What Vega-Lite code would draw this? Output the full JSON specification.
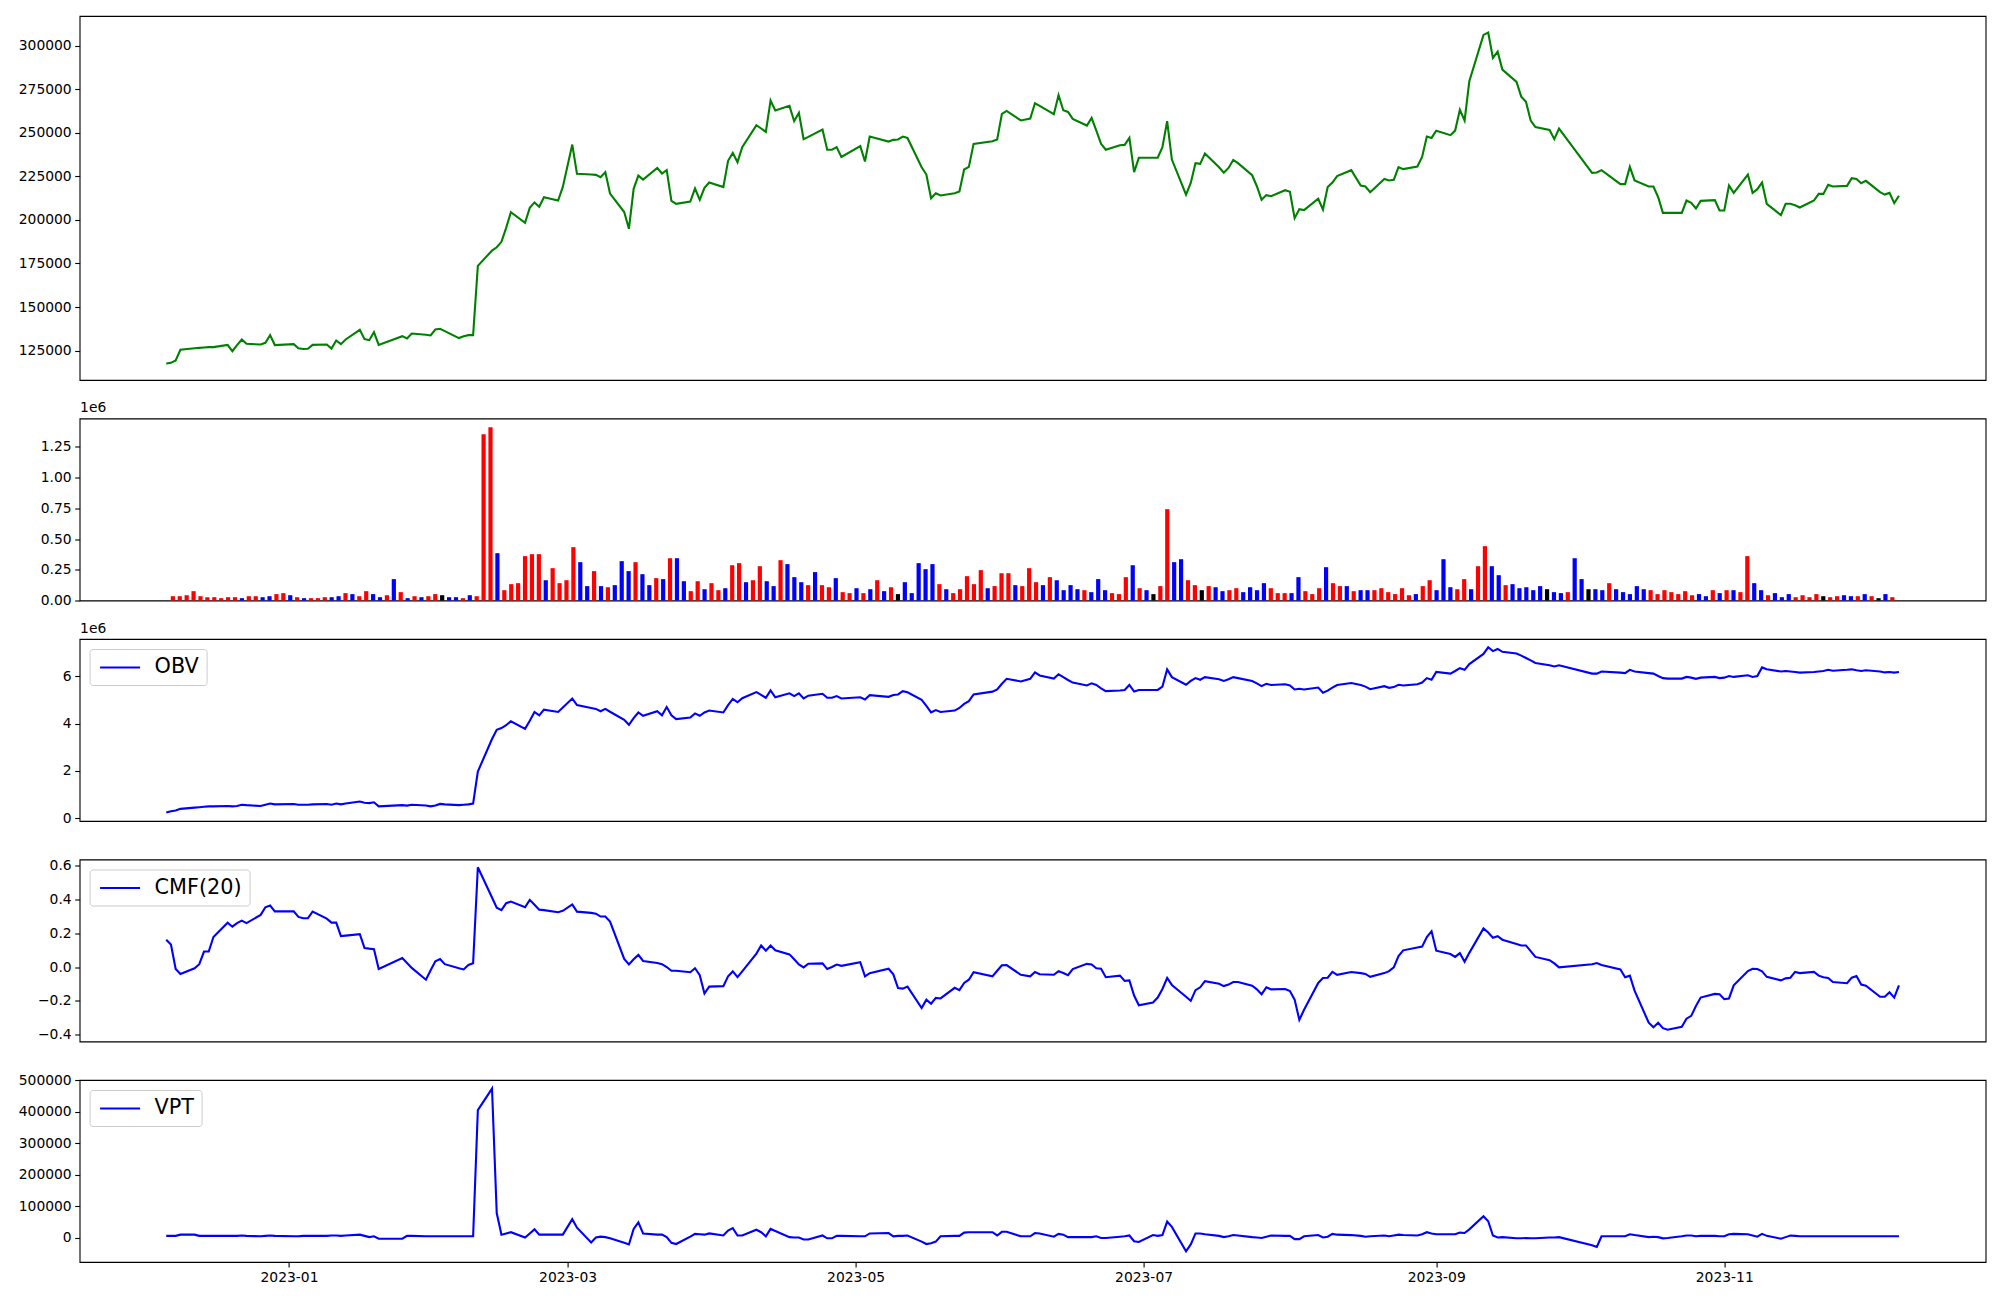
{
"$schema": "https://vega.github.io/schema/vega-lite/v6.json",
"background": "white",
"padding": {"left": 17.6, "top": 15, "right": 15, "bottom": 8},
"autosize": {"type": "pad"},
"spacing": 38.5,
"bounds": "flush",
"resolve": {"scale": {"color": "independent"}, "legend": {"color": "independent"}},
"config": {
  "font": "DejaVu Sans",
  "view": {"stroke": "black", "strokeWidth": 1.1},
  "axis": {"grid": false, "domain": false, "tickColor": "black", "tickWidth": 1.1, "tickSize": 4.9, "labelPadding": 3.5, "labelFont": "DejaVu Sans", "labelFontSize": 13.9, "labelColor": "black", "title": null, "titleFont": "DejaVu Sans", "titleFontSize": 13.9, "titleFontWeight": "normal", "titleColor": "black"},
  "legend": {"orient": "top-left", "offset": 10, "symbolType": "M-2,0H2", "symbolSize": 400, "symbolStrokeWidth": 2.1, "symbolOffset": 12, "labelFontSize": 20.8, "labelFont": "DejaVu Sans", "labelColor": "black", "strokeColor": "#cccccc", "fillColor": "white", "padding": 7, "cornerRadius": 3, "labelOffset": 23}
},
"datasets": {"d": [
{"i":1,"date":"2022-12-06","close":117600,"vol":35000,"dir":"up","obv":246000,"cmf":0.163,"vpt":6000},
{"i":2,"date":"2022-12-07","close":118000,"vol":35000,"dir":"up","obv":298000,"cmf":0.134,"vpt":6000},
{"i":3,"date":"2022-12-08","close":119400,"vol":43000,"dir":"up","obv":333000,"cmf":-0.011,"vpt":6000},
{"i":4,"date":"2022-12-09","close":125500,"vol":76000,"dir":"up","obv":402000,"cmf":-0.040,"vpt":9800},
{"i":5,"date":"2022-12-12","close":126400,"vol":35000,"dir":"up","obv":454000,"cmf":-0.006,"vpt":9800},
{"i":6,"date":"2022-12-13","close":126600,"vol":27000,"dir":"up","obv":471000,"cmf":0.018,"vpt":6000},
{"i":7,"date":"2022-12-14","close":126800,"vol":27000,"dir":"up","obv":489000,"cmf":0.093,"vpt":6000},
{"i":8,"date":"2022-12-15","close":127000,"vol":19000,"dir":"up","obv":506000,"cmf":0.093,"vpt":6000},
{"i":9,"date":"2022-12-16","close":127000,"vol":27000,"dir":"up","obv":506000,"cmf":0.179,"vpt":6000},
{"i":10,"date":"2022-12-19","close":128300,"vol":27000,"dir":"up","obv":523000,"cmf":0.264,"vpt":6000},
{"i":11,"date":"2022-12-20","close":124700,"vol":19000,"dir":"down","obv":506000,"cmf":0.240,"vpt":6000},
{"i":12,"date":"2022-12-21","close":128200,"vol":35000,"dir":"up","obv":523000,"cmf":0.261,"vpt":6000},
{"i":13,"date":"2022-12-22","close":131400,"vol":35000,"dir":"up","obv":575000,"cmf":0.276,"vpt":7200},
{"i":14,"date":"2022-12-23","close":128900,"vol":27000,"dir":"down","obv":558000,"cmf":0.261,"vpt":6000},
{"i":15,"date":"2022-12-26","close":128500,"vol":35000,"dir":"down","obv":523000,"cmf":0.310,"vpt":4600},
{"i":16,"date":"2022-12-27","close":129500,"vol":52000,"dir":"up","obv":575000,"cmf":0.355,"vpt":6000},
{"i":17,"date":"2022-12-28","close":133900,"vol":60000,"dir":"up","obv":627000,"cmf":0.365,"vpt":7200},
{"i":18,"date":"2022-12-29","close":128200,"vol":43000,"dir":"down","obv":592000,"cmf":0.331,"vpt":6000},
{"i":19,"date":"2023-01-02","close":128700,"vol":27000,"dir":"up","obv":610000,"cmf":0.331,"vpt":4600},
{"i":20,"date":"2023-01-03","close":126400,"vol":19000,"dir":"down","obv":575000,"cmf":0.298,"vpt":4600},
{"i":21,"date":"2023-01-04","close":125900,"vol":19000,"dir":"up","obv":575000,"cmf":0.290,"vpt":6000},
{"i":22,"date":"2023-01-05","close":126100,"vol":19000,"dir":"up","obv":575000,"cmf":0.290,"vpt":6000},
{"i":23,"date":"2023-01-06","close":128300,"vol":27000,"dir":"up","obv":592000,"cmf":0.329,"vpt":6000},
{"i":24,"date":"2023-01-09","close":128500,"vol":27000,"dir":"down","obv":610000,"cmf":0.288,"vpt":6000},
{"i":25,"date":"2023-01-10","close":126200,"vol":35000,"dir":"down","obv":575000,"cmf":0.264,"vpt":7200},
{"i":26,"date":"2023-01-11","close":130800,"vol":60000,"dir":"up","obv":627000,"cmf":0.264,"vpt":7200},
{"i":27,"date":"2023-01-12","close":128700,"vol":52000,"dir":"down","obv":592000,"cmf":0.184,"vpt":6000},
{"i":28,"date":"2023-01-13","close":131400,"vol":35000,"dir":"up","obv":627000,"cmf":0.187,"vpt":7200},
{"i":29,"date":"2023-01-16","close":136900,"vol":76000,"dir":"up","obv":714000,"cmf":0.196,"vpt":9800},
{"i":30,"date":"2023-01-17","close":131600,"vol":52000,"dir":"down","obv":662000,"cmf":0.114,"vpt":6000},
{"i":31,"date":"2023-01-18","close":131000,"vol":27000,"dir":"down","obv":644000,"cmf":0.110,"vpt":2000},
{"i":32,"date":"2023-01-19","close":135600,"vol":43000,"dir":"up","obv":679000,"cmf":0.107,"vpt":4600},
{"i":33,"date":"2023-01-20","close":128300,"vol":174000,"dir":"down","obv":506000,"cmf":-0.011,"vpt":-3100},
{"i":34,"date":"2023-01-25","close":133300,"vol":68000,"dir":"up","obv":558000,"cmf":0.054,"vpt":-3100},
{"i":35,"date":"2023-01-26","close":132000,"vol":19000,"dir":"down","obv":541000,"cmf":0.025,"vpt":6000},
{"i":36,"date":"2023-01-27","close":134800,"vol":35000,"dir":"up","obv":575000,"cmf":-0.004,"vpt":6000},
{"i":37,"date":"2023-01-30","close":134100,"vol":27000,"dir":"down","obv":541000,"cmf":-0.074,"vpt":4600},
{"i":38,"date":"2023-01-31","close":133700,"vol":35000,"dir":"up","obv":506000,"cmf":-0.018,"vpt":4600},
{"i":39,"date":"2023-02-01","close":137100,"vol":52000,"dir":"up","obv":541000,"cmf":0.035,"vpt":4600},
{"i":40,"date":"2023-02-02","close":137500,"vol":43000,"dir":"flat","obv":610000,"cmf":0.049,"vpt":4600},
{"i":41,"date":"2023-02-03","close":136200,"vol":27000,"dir":"down","obv":592000,"cmf":0.018,"vpt":4600},
{"i":42,"date":"2023-02-06","close":132200,"vol":27000,"dir":"down","obv":558000,"cmf":-0.006,"vpt":4600},
{"i":43,"date":"2023-02-07","close":133300,"vol":19000,"dir":"up","obv":575000,"cmf":-0.013,"vpt":4600},
{"i":44,"date":"2023-02-08","close":133900,"vol":43000,"dir":"down","obv":592000,"cmf":0.013,"vpt":4600},
{"i":45,"date":"2023-02-09","close":133900,"vol":35000,"dir":"up","obv":627000,"cmf":0.023,"vpt":4600},
{"i":46,"date":"2023-02-10","close":173600,"vol":1353000,"dir":"up","obv":1977000,"cmf":0.592,"vpt":405100},
{"i":47,"date":"2023-02-13","close":182400,"vol":1410000,"dir":"up","obv":3350000,"cmf":0.413,"vpt":473800},
{"i":48,"date":"2023-02-14","close":184300,"vol":385000,"dir":"down","obv":3740000,"cmf":0.353,"vpt":78500},
{"i":49,"date":"2023-02-15","close":187400,"vol":84000,"dir":"up","obv":3810000,"cmf":0.338,"vpt":9800},
{"i":50,"date":"2023-02-16","close":195400,"vol":133000,"dir":"up","obv":3930000,"cmf":0.379,"vpt":13700},
{"i":51,"date":"2023-02-17","close":204400,"vol":141000,"dir":"up","obv":4100000,"cmf":0.389,"vpt":17600},
{"i":52,"date":"2023-02-20","close":198300,"vol":361000,"dir":"up","obv":3780000,"cmf":0.355,"vpt":800},
{"i":53,"date":"2023-02-21","close":206900,"vol":377000,"dir":"up","obv":4120000,"cmf":0.399,"vpt":13700},
{"i":54,"date":"2023-02-22","close":210000,"vol":377000,"dir":"up","obv":4490000,"cmf":0.370,"vpt":26700},
{"i":55,"date":"2023-02-23","close":207500,"vol":165000,"dir":"down","obv":4350000,"cmf":0.341,"vpt":9800},
{"i":56,"date":"2023-02-24","close":213000,"vol":263000,"dir":"up","obv":4590000,"cmf":0.338,"vpt":9800},
{"i":57,"date":"2023-02-27","close":211100,"vol":141000,"dir":"up","obv":4490000,"cmf":0.326,"vpt":9800},
{"i":58,"date":"2023-02-28","close":218900,"vol":165000,"dir":"up","obv":4680000,"cmf":0.334,"vpt":9800},
{"i":59,"date":"2023-03-02","close":243200,"vol":434000,"dir":"up","obv":5060000,"cmf":0.372,"vpt":59100},
{"i":60,"date":"2023-03-03","close":226400,"vol":312000,"dir":"down","obv":4780000,"cmf":0.329,"vpt":31800},
{"i":61,"date":"2023-03-06","close":226000,"vol":117000,"dir":"down","obv":4660000,"cmf":0.322,"vpt":-14800},
{"i":62,"date":"2023-03-07","close":225800,"vol":239000,"dir":"up","obv":4620000,"cmf":0.317,"vpt":800},
{"i":63,"date":"2023-03-08","close":224500,"vol":117000,"dir":"down","obv":4520000,"cmf":0.300,"vpt":3400},
{"i":64,"date":"2023-03-09","close":227400,"vol":108000,"dir":"up","obv":4620000,"cmf":0.300,"vpt":2000},
{"i":65,"date":"2023-03-10","close":215100,"vol":125000,"dir":"down","obv":4500000,"cmf":0.270,"vpt":-1800},
{"i":66,"date":"2023-03-13","close":204500,"vol":320000,"dir":"down","obv":4160000,"cmf":0.049,"vpt":-16100},
{"i":67,"date":"2023-03-14","close":194900,"vol":239000,"dir":"down","obv":3950000,"cmf":0.016,"vpt":-21300},
{"i":68,"date":"2023-03-15","close":217800,"vol":312000,"dir":"up","obv":4230000,"cmf":0.047,"vpt":28000},
{"i":69,"date":"2023-03-16","close":225400,"vol":214000,"dir":"down","obv":4470000,"cmf":0.073,"vpt":48700},
{"i":70,"date":"2023-03-17","close":223100,"vol":125000,"dir":"down","obv":4330000,"cmf":0.037,"vpt":13700},
{"i":71,"date":"2023-03-20","close":229800,"vol":182000,"dir":"up","obv":4520000,"cmf":0.025,"vpt":9800},
{"i":72,"date":"2023-03-21","close":226600,"vol":174000,"dir":"down","obv":4350000,"cmf":0.018,"vpt":9800},
{"i":73,"date":"2023-03-22","close":228500,"vol":344000,"dir":"up","obv":4700000,"cmf":0.001,"vpt":2000},
{"i":74,"date":"2023-03-23","close":210900,"vol":344000,"dir":"down","obv":4350000,"cmf":-0.021,"vpt":-16100},
{"i":75,"date":"2023-03-24","close":209200,"vol":157000,"dir":"down","obv":4190000,"cmf":-0.021,"vpt":-20000},
{"i":76,"date":"2023-03-27","close":210500,"vol":76000,"dir":"up","obv":4260000,"cmf":-0.030,"vpt":3400},
{"i":77,"date":"2023-03-28","close":218000,"vol":157000,"dir":"up","obv":4430000,"cmf":-0.006,"vpt":12400},
{"i":78,"date":"2023-03-29","close":211500,"vol":92000,"dir":"down","obv":4330000,"cmf":-0.047,"vpt":11100},
{"i":79,"date":"2023-03-30","close":218400,"vol":141000,"dir":"up","obv":4470000,"cmf":-0.156,"vpt":9800},
{"i":80,"date":"2023-03-31","close":221400,"vol":84000,"dir":"up","obv":4550000,"cmf":-0.115,"vpt":13700},
{"i":81,"date":"2023-04-03","close":218800,"vol":100000,"dir":"down","obv":4470000,"cmf":-0.112,"vpt":7200},
{"i":82,"date":"2023-04-04","close":233900,"vol":287000,"dir":"up","obv":4780000,"cmf":-0.054,"vpt":22700},
{"i":83,"date":"2023-04-05","close":238400,"vol":304000,"dir":"up","obv":5040000,"cmf":-0.025,"vpt":30600},
{"i":84,"date":"2023-04-06","close":233100,"vol":149000,"dir":"down","obv":4900000,"cmf":-0.059,"vpt":7200},
{"i":85,"date":"2023-04-07","close":241700,"vol":165000,"dir":"up","obv":5070000,"cmf":-0.025,"vpt":7200},
{"i":86,"date":"2023-04-10","close":254300,"vol":279000,"dir":"up","obv":5330000,"cmf":0.081,"vpt":25400},
{"i":87,"date":"2023-04-11","close":252400,"vol":157000,"dir":"down","obv":5210000,"cmf":0.129,"vpt":17600},
{"i":88,"date":"2023-04-12","close":250500,"vol":117000,"dir":"down","obv":5090000,"cmf":0.098,"vpt":4600},
{"i":89,"date":"2023-04-13","close":268400,"vol":328000,"dir":"up","obv":5400000,"cmf":0.129,"vpt":28000},
{"i":90,"date":"2023-04-14","close":262700,"vol":296000,"dir":"down","obv":5110000,"cmf":0.100,"vpt":21500},
{"i":91,"date":"2023-04-17","close":265400,"vol":190000,"dir":"down","obv":5280000,"cmf":0.076,"vpt":2000},
{"i":92,"date":"2023-04-18","close":256600,"vol":149000,"dir":"down","obv":5160000,"cmf":0.047,"vpt":800},
{"i":93,"date":"2023-04-19","close":261400,"vol":125000,"dir":"up","obv":5280000,"cmf":0.016,"vpt":800},
{"i":94,"date":"2023-04-20","close":246300,"vol":231000,"dir":"down","obv":5060000,"cmf":-0.001,"vpt":-5700},
{"i":95,"date":"2023-04-21","close":247600,"vol":125000,"dir":"up","obv":5180000,"cmf":0.021,"vpt":-5700},
{"i":96,"date":"2023-04-24","close":251800,"vol":108000,"dir":"up","obv":5260000,"cmf":0.023,"vpt":7200},
{"i":97,"date":"2023-04-25","close":240200,"vol":182000,"dir":"down","obv":5090000,"cmf":-0.011,"vpt":-1800},
{"i":98,"date":"2023-04-26","close":240200,"vol":68000,"dir":"up","obv":5090000,"cmf":0.001,"vpt":-1800},
{"i":99,"date":"2023-04-27","close":241700,"vol":60000,"dir":"up","obv":5160000,"cmf":0.016,"vpt":6000},
{"i":100,"date":"2023-04-28","close":236100,"vol":100000,"dir":"down","obv":5060000,"cmf":0.008,"vpt":6000},
{"i":101,"date":"2023-05-02","close":242300,"vol":60000,"dir":"up","obv":5110000,"cmf":0.030,"vpt":4600},
{"i":102,"date":"2023-05-03","close":233500,"vol":92000,"dir":"down","obv":5020000,"cmf":-0.054,"vpt":4600},
{"i":103,"date":"2023-05-04","close":247800,"vol":165000,"dir":"up","obv":5200000,"cmf":-0.035,"vpt":13700},
{"i":104,"date":"2023-05-08","close":244900,"vol":76000,"dir":"down","obv":5130000,"cmf":-0.009,"vpt":15000},
{"i":105,"date":"2023-05-09","close":245900,"vol":108000,"dir":"up","obv":5210000,"cmf":-0.042,"vpt":4600},
{"i":106,"date":"2023-05-10","close":246100,"vol":52000,"dir":"flat","obv":5230000,"cmf":-0.124,"vpt":6000},
{"i":107,"date":"2023-05-11","close":247800,"vol":149000,"dir":"down","obv":5370000,"cmf":-0.127,"vpt":6000},
{"i":108,"date":"2023-05-12","close":247000,"vol":60000,"dir":"down","obv":5320000,"cmf":-0.115,"vpt":7200},
{"i":109,"date":"2023-05-15","close":230200,"vol":304000,"dir":"down","obv":5000000,"cmf":-0.242,"vpt":-12200},
{"i":110,"date":"2023-05-16","close":226000,"vol":255000,"dir":"down","obv":4750000,"cmf":-0.192,"vpt":-20000},
{"i":111,"date":"2023-05-17","close":212400,"vol":296000,"dir":"down","obv":4470000,"cmf":-0.216,"vpt":-17400},
{"i":112,"date":"2023-05-18","close":215300,"vol":133000,"dir":"up","obv":4570000,"cmf":-0.182,"vpt":-12200},
{"i":113,"date":"2023-05-19","close":214000,"vol":92000,"dir":"down","obv":4490000,"cmf":-0.185,"vpt":4600},
{"i":114,"date":"2023-05-22","close":215300,"vol":60000,"dir":"up","obv":4550000,"cmf":-0.122,"vpt":6000},
{"i":115,"date":"2023-05-23","close":216300,"vol":92000,"dir":"up","obv":4660000,"cmf":-0.136,"vpt":6000},
{"i":116,"date":"2023-05-24","close":228900,"vol":198000,"dir":"up","obv":4830000,"cmf":-0.093,"vpt":16300},
{"i":117,"date":"2023-05-25","close":230400,"vol":133000,"dir":"up","obv":4950000,"cmf":-0.074,"vpt":17600},
{"i":118,"date":"2023-05-26","close":243600,"vol":247000,"dir":"up","obv":5230000,"cmf":-0.030,"vpt":17600},
{"i":119,"date":"2023-05-30","close":245100,"vol":100000,"dir":"down","obv":5350000,"cmf":-0.054,"vpt":17600},
{"i":120,"date":"2023-05-31","close":246100,"vol":117000,"dir":"up","obv":5440000,"cmf":-0.021,"vpt":7200},
{"i":121,"date":"2023-06-01","close":260800,"vol":222000,"dir":"up","obv":5680000,"cmf":0.011,"vpt":18900},
{"i":122,"date":"2023-06-02","close":262500,"vol":222000,"dir":"up","obv":5890000,"cmf":0.013,"vpt":18900},
{"i":123,"date":"2023-06-05","close":257000,"vol":125000,"dir":"down","obv":5780000,"cmf":-0.045,"vpt":4600},
{"i":124,"date":"2023-06-07","close":258100,"vol":117000,"dir":"up","obv":5890000,"cmf":-0.054,"vpt":4600},
{"i":125,"date":"2023-06-08","close":266900,"vol":263000,"dir":"up","obv":6160000,"cmf":-0.028,"vpt":15000},
{"i":126,"date":"2023-06-09","close":265400,"vol":149000,"dir":"up","obv":6030000,"cmf":-0.042,"vpt":13700},
{"i":127,"date":"2023-06-12","close":260600,"vol":125000,"dir":"down","obv":5900000,"cmf":-0.045,"vpt":3400},
{"i":128,"date":"2023-06-13","close":271500,"vol":190000,"dir":"up","obv":6080000,"cmf":-0.023,"vpt":12400},
{"i":129,"date":"2023-06-14","close":262900,"vol":165000,"dir":"down","obv":5960000,"cmf":-0.034,"vpt":9800},
{"i":130,"date":"2023-06-15","close":261900,"vol":84000,"dir":"down","obv":5840000,"cmf":-0.047,"vpt":2000},
{"i":131,"date":"2023-06-16","close":257900,"vol":125000,"dir":"down","obv":5730000,"cmf":-0.011,"vpt":2000},
{"i":132,"date":"2023-06-19","close":254100,"vol":92000,"dir":"down","obv":5610000,"cmf":0.020,"vpt":2000},
{"i":133,"date":"2023-06-20","close":258500,"vol":84000,"dir":"up","obv":5700000,"cmf":0.016,"vpt":2000},
{"i":134,"date":"2023-06-21","close":251200,"vol":68000,"dir":"down","obv":5630000,"cmf":-0.006,"vpt":4600},
{"i":135,"date":"2023-06-22","close":243600,"vol":174000,"dir":"down","obv":5490000,"cmf":-0.009,"vpt":-600},
{"i":136,"date":"2023-06-23","close":240200,"vol":84000,"dir":"down","obv":5370000,"cmf":-0.059,"vpt":-600},
{"i":137,"date":"2023-06-26","close":242800,"vol":60000,"dir":"up","obv":5400000,"cmf":-0.050,"vpt":3400},
{"i":138,"date":"2023-06-27","close":243000,"vol":52000,"dir":"up","obv":5420000,"cmf":-0.081,"vpt":4600},
{"i":139,"date":"2023-06-28","close":247000,"vol":190000,"dir":"up","obv":5630000,"cmf":-0.078,"vpt":7200},
{"i":140,"date":"2023-06-29","close":227400,"vol":287000,"dir":"down","obv":5350000,"cmf":-0.168,"vpt":-10900},
{"i":141,"date":"2023-06-30","close":235600,"vol":100000,"dir":"up","obv":5420000,"cmf":-0.225,"vpt":-13500},
{"i":142,"date":"2023-07-03","close":235600,"vol":84000,"dir":"down","obv":5420000,"cmf":-0.209,"vpt":8500},
{"i":143,"date":"2023-07-04","close":235600,"vol":52000,"dir":"flat","obv":5420000,"cmf":-0.180,"vpt":6000},
{"i":144,"date":"2023-07-05","close":241700,"vol":117000,"dir":"up","obv":5560000,"cmf":-0.129,"vpt":8500},
{"i":145,"date":"2023-07-06","close":256600,"vol":743000,"dir":"up","obv":6290000,"cmf":-0.064,"vpt":51300},
{"i":146,"date":"2023-07-07","close":234600,"vol":312000,"dir":"down","obv":5960000,"cmf":-0.105,"vpt":34500},
{"i":147,"date":"2023-07-10","close":214500,"vol":336000,"dir":"down","obv":5640000,"cmf":-0.175,"vpt":-43300},
{"i":148,"date":"2023-07-11","close":221200,"vol":165000,"dir":"up","obv":5800000,"cmf":-0.199,"vpt":-21300},
{"i":149,"date":"2023-07-12","close":232500,"vol":125000,"dir":"up","obv":5920000,"cmf":-0.136,"vpt":13700},
{"i":150,"date":"2023-07-13","close":232100,"vol":84000,"dir":"flat","obv":5850000,"cmf":-0.119,"vpt":13700},
{"i":151,"date":"2023-07-14","close":238100,"vol":117000,"dir":"up","obv":5960000,"cmf":-0.083,"vpt":11100},
{"i":152,"date":"2023-07-17","close":230200,"vol":108000,"dir":"down","obv":5870000,"cmf":-0.098,"vpt":6000},
{"i":153,"date":"2023-07-18","close":227000,"vol":76000,"dir":"down","obv":5800000,"cmf":-0.112,"vpt":2000},
{"i":154,"date":"2023-07-19","close":229800,"vol":84000,"dir":"up","obv":5870000,"cmf":-0.103,"vpt":4600},
{"i":155,"date":"2023-07-20","close":234400,"vol":100000,"dir":"up","obv":5960000,"cmf":-0.088,"vpt":8500},
{"i":156,"date":"2023-07-21","close":232500,"vol":68000,"dir":"down","obv":5920000,"cmf":-0.088,"vpt":7200},
{"i":157,"date":"2023-07-24","close":225600,"vol":108000,"dir":"down","obv":5800000,"cmf":-0.110,"vpt":2000},
{"i":158,"date":"2023-07-25","close":219300,"vol":84000,"dir":"down","obv":5700000,"cmf":-0.131,"vpt":800},
{"i":159,"date":"2023-07-26","close":211500,"vol":141000,"dir":"down","obv":5580000,"cmf":-0.160,"vpt":-600},
{"i":160,"date":"2023-07-27","close":214200,"vol":100000,"dir":"up","obv":5680000,"cmf":-0.119,"vpt":3400},
{"i":161,"date":"2023-07-28","close":213600,"vol":60000,"dir":"up","obv":5630000,"cmf":-0.131,"vpt":7200},
{"i":162,"date":"2023-07-31","close":217000,"vol":60000,"dir":"up","obv":5660000,"cmf":-0.129,"vpt":6000},
{"i":163,"date":"2023-08-01","close":216100,"vol":60000,"dir":"down","obv":5610000,"cmf":-0.141,"vpt":6000},
{"i":164,"date":"2023-08-02","close":201000,"vol":190000,"dir":"down","obv":5440000,"cmf":-0.192,"vpt":-4400},
{"i":165,"date":"2023-08-03","close":206100,"vol":76000,"dir":"up","obv":5470000,"cmf":-0.312,"vpt":-4400},
{"i":166,"date":"2023-08-04","close":205600,"vol":52000,"dir":"up","obv":5440000,"cmf":-0.252,"vpt":4600},
{"i":167,"date":"2023-08-07","close":212100,"vol":100000,"dir":"up","obv":5520000,"cmf":-0.093,"vpt":8500},
{"i":168,"date":"2023-08-08","close":205900,"vol":271000,"dir":"down","obv":5300000,"cmf":-0.064,"vpt":800},
{"i":169,"date":"2023-08-09","close":218800,"vol":141000,"dir":"up","obv":5390000,"cmf":-0.062,"vpt":3400},
{"i":170,"date":"2023-08-10","close":221400,"vol":117000,"dir":"up","obv":5520000,"cmf":-0.028,"vpt":12400},
{"i":171,"date":"2023-08-11","close":225100,"vol":117000,"dir":"down","obv":5630000,"cmf":-0.045,"vpt":9800},
{"i":172,"date":"2023-08-14","close":228500,"vol":76000,"dir":"up","obv":5710000,"cmf":-0.028,"vpt":8500},
{"i":173,"date":"2023-08-16","close":219700,"vol":84000,"dir":"down","obv":5630000,"cmf":-0.035,"vpt":6000},
{"i":174,"date":"2023-08-17","close":219100,"vol":84000,"dir":"down","obv":5560000,"cmf":-0.040,"vpt":3400},
{"i":175,"date":"2023-08-18","close":215900,"vol":84000,"dir":"up","obv":5450000,"cmf":-0.057,"vpt":4600},
{"i":176,"date":"2023-08-21","close":223500,"vol":100000,"dir":"up","obv":5580000,"cmf":-0.035,"vpt":7200},
{"i":177,"date":"2023-08-22","close":222600,"vol":68000,"dir":"up","obv":5510000,"cmf":-0.023,"vpt":4600},
{"i":178,"date":"2023-08-23","close":223000,"vol":52000,"dir":"up","obv":5540000,"cmf":-0.001,"vpt":7200},
{"i":179,"date":"2023-08-24","close":230200,"vol":100000,"dir":"up","obv":5640000,"cmf":0.066,"vpt":9800},
{"i":180,"date":"2023-08-25","close":229100,"vol":43000,"dir":"up","obv":5610000,"cmf":0.100,"vpt":8500},
{"i":181,"date":"2023-08-28","close":230600,"vol":52000,"dir":"down","obv":5660000,"cmf":0.117,"vpt":7200},
{"i":182,"date":"2023-08-29","close":236100,"vol":117000,"dir":"up","obv":5730000,"cmf":0.122,"vpt":11100},
{"i":183,"date":"2023-08-30","close":247800,"vol":165000,"dir":"up","obv":5920000,"cmf":0.179,"vpt":17600},
{"i":184,"date":"2023-08-31","close":247000,"vol":84000,"dir":"down","obv":5850000,"cmf":0.213,"vpt":13700},
{"i":185,"date":"2023-09-01","close":251100,"vol":336000,"dir":"down","obv":6180000,"cmf":0.098,"vpt":11100},
{"i":186,"date":"2023-09-04","close":248600,"vol":108000,"dir":"down","obv":6110000,"cmf":0.078,"vpt":11100},
{"i":187,"date":"2023-09-05","close":251200,"vol":92000,"dir":"up","obv":6220000,"cmf":0.061,"vpt":11100},
{"i":188,"date":"2023-09-06","close":263100,"vol":174000,"dir":"up","obv":6340000,"cmf":0.083,"vpt":16300},
{"i":189,"date":"2023-09-07","close":257000,"vol":92000,"dir":"down","obv":6270000,"cmf":0.032,"vpt":15000},
{"i":190,"date":"2023-09-08","close":279500,"vol":279000,"dir":"up","obv":6510000,"cmf":0.085,"vpt":26700},
{"i":191,"date":"2023-09-11","close":306100,"vol":442000,"dir":"up","obv":6940000,"cmf":0.230,"vpt":68200},
{"i":192,"date":"2023-09-12","close":307400,"vol":279000,"dir":"down","obv":7220000,"cmf":0.206,"vpt":52600},
{"i":193,"date":"2023-09-13","close":292900,"vol":206000,"dir":"down","obv":7060000,"cmf":0.175,"vpt":7200},
{"i":194,"date":"2023-09-14","close":296500,"vol":125000,"dir":"up","obv":7150000,"cmf":0.184,"vpt":800},
{"i":195,"date":"2023-09-15","close":286200,"vol":133000,"dir":"down","obv":7030000,"cmf":0.163,"vpt":2000},
{"i":196,"date":"2023-09-18","close":279100,"vol":100000,"dir":"down","obv":6960000,"cmf":0.138,"vpt":-1800},
{"i":197,"date":"2023-09-19","close":270700,"vol":108000,"dir":"down","obv":6870000,"cmf":0.129,"vpt":-1800},
{"i":198,"date":"2023-09-20","close":267700,"vol":84000,"dir":"down","obv":6770000,"cmf":0.129,"vpt":-600},
{"i":199,"date":"2023-09-21","close":257000,"vol":117000,"dir":"down","obv":6670000,"cmf":0.095,"vpt":-1800},
{"i":200,"date":"2023-09-22","close":253200,"vol":92000,"dir":"flat","obv":6560000,"cmf":0.061,"vpt":-1800},
{"i":201,"date":"2023-09-25","close":251600,"vol":68000,"dir":"down","obv":6460000,"cmf":0.042,"vpt":800},
{"i":202,"date":"2023-09-26","close":246300,"vol":60000,"dir":"down","obv":6410000,"cmf":0.023,"vpt":800},
{"i":203,"date":"2023-09-27","close":252400,"vol":68000,"dir":"up","obv":6460000,"cmf":-0.001,"vpt":2000},
{"i":204,"date":"2023-10-04","close":227000,"vol":344000,"dir":"down","obv":6110000,"cmf":0.018,"vpt":-24000},
{"i":205,"date":"2023-10-05","close":227200,"vol":174000,"dir":"down","obv":6110000,"cmf":0.025,"vpt":-29000},
{"i":206,"date":"2023-10-06","close":228500,"vol":92000,"dir":"flat","obv":6200000,"cmf":0.013,"vpt":4600},
{"i":207,"date":"2023-10-10","close":220500,"vol":92000,"dir":"down","obv":6150000,"cmf":-0.013,"vpt":4600},
{"i":208,"date":"2023-10-11","close":220500,"vol":84000,"dir":"down","obv":6130000,"cmf":-0.059,"vpt":4600},
{"i":209,"date":"2023-10-12","close":230400,"vol":141000,"dir":"up","obv":6270000,"cmf":-0.050,"vpt":11100},
{"i":210,"date":"2023-10-13","close":222600,"vol":92000,"dir":"down","obv":6200000,"cmf":-0.139,"vpt":8500},
{"i":211,"date":"2023-10-16","close":219100,"vol":68000,"dir":"down","obv":6130000,"cmf":-0.329,"vpt":2000},
{"i":212,"date":"2023-10-17","close":219100,"vol":52000,"dir":"down","obv":6110000,"cmf":-0.356,"vpt":3400},
{"i":213,"date":"2023-10-18","close":213000,"vol":117000,"dir":"down","obv":6010000,"cmf":-0.329,"vpt":2000},
{"i":214,"date":"2023-10-19","close":204000,"vol":92000,"dir":"down","obv":5920000,"cmf":-0.361,"vpt":-1800},
{"i":215,"date":"2023-10-20","close":204000,"vol":84000,"dir":"up","obv":5900000,"cmf":-0.370,"vpt":-600},
{"i":216,"date":"2023-10-23","close":204000,"vol":52000,"dir":"up","obv":5900000,"cmf":-0.353,"vpt":4600},
{"i":217,"date":"2023-10-24","close":211100,"vol":84000,"dir":"up","obv":5970000,"cmf":-0.305,"vpt":7200},
{"i":218,"date":"2023-10-25","close":209800,"vol":68000,"dir":"up","obv":5940000,"cmf":-0.288,"vpt":7200},
{"i":219,"date":"2023-10-26","close":206500,"vol":52000,"dir":"up","obv":5890000,"cmf":-0.230,"vpt":4600},
{"i":220,"date":"2023-10-27","close":210900,"vol":76000,"dir":"up","obv":5940000,"cmf":-0.180,"vpt":6000},
{"i":221,"date":"2023-10-30","close":211300,"vol":43000,"dir":"up","obv":5970000,"cmf":-0.158,"vpt":6000},
{"i":222,"date":"2023-10-31","close":205400,"vol":52000,"dir":"down","obv":5920000,"cmf":-0.160,"vpt":4600},
{"i":223,"date":"2023-11-01","close":205400,"vol":35000,"dir":"down","obv":5940000,"cmf":-0.189,"vpt":4600},
{"i":224,"date":"2023-11-02","close":219700,"vol":84000,"dir":"up","obv":6010000,"cmf":-0.185,"vpt":11100},
{"i":225,"date":"2023-11-03","close":215500,"vol":60000,"dir":"down","obv":5970000,"cmf":-0.107,"vpt":12400},
{"i":226,"date":"2023-11-06","close":226000,"vol":84000,"dir":"up","obv":6040000,"cmf":-0.023,"vpt":11100},
{"i":227,"date":"2023-11-07","close":215500,"vol":84000,"dir":"down","obv":5970000,"cmf":-0.009,"vpt":7200},
{"i":228,"date":"2023-11-08","close":217600,"vol":68000,"dir":"up","obv":6010000,"cmf":-0.011,"vpt":3400},
{"i":229,"date":"2023-11-09","close":221400,"vol":361000,"dir":"up","obv":6370000,"cmf":-0.025,"vpt":12400},
{"i":230,"date":"2023-11-10","close":209200,"vol":141000,"dir":"down","obv":6290000,"cmf":-0.057,"vpt":6000},
{"i":231,"date":"2023-11-13","close":202700,"vol":84000,"dir":"down","obv":6200000,"cmf":-0.078,"vpt":-3100},
{"i":232,"date":"2023-11-14","close":209200,"vol":43000,"dir":"up","obv":6220000,"cmf":-0.066,"vpt":2000},
{"i":233,"date":"2023-11-15","close":209200,"vol":60000,"dir":"down","obv":6200000,"cmf":-0.062,"vpt":7200},
{"i":234,"date":"2023-11-16","close":208400,"vol":27000,"dir":"down","obv":6180000,"cmf":-0.028,"vpt":6000},
{"i":235,"date":"2023-11-17","close":207100,"vol":52000,"dir":"down","obv":6150000,"cmf":-0.035,"vpt":5000},
{"i":236,"date":"2023-11-20","close":211100,"vol":27000,"dir":"up","obv":6180000,"cmf":-0.028,"vpt":5000},
{"i":237,"date":"2023-11-21","close":214900,"vol":43000,"dir":"up","obv":6200000,"cmf":-0.050,"vpt":5000},
{"i":238,"date":"2023-11-22","close":214900,"vol":27000,"dir":"up","obv":6220000,"cmf":-0.059,"vpt":5000},
{"i":239,"date":"2023-11-23","close":220100,"vol":52000,"dir":"up","obv":6270000,"cmf":-0.064,"vpt":5000},
{"i":240,"date":"2023-11-24","close":219100,"vol":35000,"dir":"flat","obv":6230000,"cmf":-0.088,"vpt":5000},
{"i":241,"date":"2023-11-27","close":219500,"vol":27000,"dir":"up","obv":6270000,"cmf":-0.095,"vpt":5000},
{"i":242,"date":"2023-11-28","close":223900,"vol":35000,"dir":"up","obv":6290000,"cmf":-0.062,"vpt":5000},
{"i":243,"date":"2023-11-29","close":223500,"vol":43000,"dir":"down","obv":6250000,"cmf":-0.052,"vpt":5000},
{"i":244,"date":"2023-11-30","close":221000,"vol":35000,"dir":"down","obv":6220000,"cmf":-0.103,"vpt":5000},
{"i":245,"date":"2023-12-01","close":222400,"vol":35000,"dir":"up","obv":6250000,"cmf":-0.110,"vpt":5000},
{"i":246,"date":"2023-12-04","close":215900,"vol":52000,"dir":"down","obv":6200000,"cmf":-0.175,"vpt":5000},
{"i":247,"date":"2023-12-05","close":214500,"vol":35000,"dir":"up","obv":6160000,"cmf":-0.175,"vpt":5000},
{"i":248,"date":"2023-12-06","close":215500,"vol":19000,"dir":"flat","obv":6180000,"cmf":-0.148,"vpt":5000},
{"i":249,"date":"2023-12-07","close":209600,"vol":52000,"dir":"down","obv":6150000,"cmf":-0.180,"vpt":5000},
{"i":250,"date":"2023-12-08","close":213800,"vol":27000,"dir":"up","obv":6180000,"cmf":-0.107,"vpt":5000}
]},
"data": {"name": "d"},
"vconcat": [
  {
    "width": 1906, "height": 364,
    "mark": {"type": "line", "color": "#008000", "strokeWidth": 2.1},
    "encoding": {
      "x": {"field": "date", "type": "temporal", "scale": {"type": "utc", "domain": [{"year": 2022, "month": 11, "date": 17, "hours": 15, "minutes": 36, "utc": true}, {"year": 2023, "month": 12, "date": 26, "hours": 8, "minutes": 24, "utc": true}]}, "axis": null},
      "y": {"field": "close", "type": "quantitative", "scale": {"domain": [108150, 316930], "nice": false, "zero": false}, "axis": {"values": [125000, 150000, 175000, 200000, 225000, 250000, 275000, 300000], "format": "d"}}
    }
  },
  {
    "width": 1906, "height": 182,
    "mark": {"type": "bar", "size": 4.2, "orient": "vertical"},
    "encoding": {
      "x": {"field": "i", "type": "quantitative", "scale": {"domain": [-11.78, 262.78], "nice": false, "zero": false}, "axis": null},
      "y": {"field": "vol", "type": "quantitative", "stack": null, "scale": {"domain": [0, 1480500], "nice": false}, "axis": {"values": [0, 250000, 500000, 750000, 1000000, 1250000], "labelExpr": "format(datum.value / 1000000, '.2f')", "title": "1e6", "titleAngle": 0, "titleAlign": "left", "titleBaseline": "bottom", "titleX": 0, "titleY": -4}},
      "color": {"field": "dir", "type": "nominal", "scale": {"domain": ["up", "down", "flat"], "range": ["#ff0000", "#0000ff", "#000000"]}, "legend": null}
    }
  },
  {
    "width": 1906, "height": 182,
    "mark": {"type": "line", "strokeWidth": 2.1},
    "encoding": {
      "x": {"field": "date", "type": "temporal", "scale": {"type": "utc", "domain": [{"year": 2022, "month": 11, "date": 17, "hours": 15, "minutes": 36, "utc": true}, {"year": 2023, "month": 12, "date": 26, "hours": 8, "minutes": 24, "utc": true}]}, "axis": null},
      "y": {"field": "obv", "type": "quantitative", "scale": {"domain": [-110000, 7570000], "nice": false, "zero": false}, "axis": {"values": [0, 2000000, 4000000, 6000000], "labelExpr": "format(datum.value / 1000000, 'd')", "title": "1e6", "titleAngle": 0, "titleAlign": "left", "titleBaseline": "bottom", "titleX": 0, "titleY": -4}},
      "color": {"datum": "OBV", "type": "nominal", "scale": {"domain": ["OBV"], "range": ["#0000ff"]}, "legend": {"title": null}}
    }
  },
  {
    "width": 1906, "height": 182,
    "mark": {"type": "line", "strokeWidth": 2.1},
    "encoding": {
      "x": {"field": "date", "type": "temporal", "scale": {"type": "utc", "domain": [{"year": 2022, "month": 11, "date": 17, "hours": 15, "minutes": 36, "utc": true}, {"year": 2023, "month": 12, "date": 26, "hours": 8, "minutes": 24, "utc": true}]}, "axis": null},
      "y": {"field": "cmf", "type": "quantitative", "scale": {"domain": [-0.44, 0.638], "nice": false, "zero": false}, "axis": {"values": [-0.4, -0.2, 0, 0.2, 0.4, 0.6], "labelExpr": "replace(format(datum.value, '.1f'), '-', '\u2212')"}},
      "color": {"datum": "CMF(20)", "type": "nominal", "scale": {"domain": ["CMF(20)"], "range": ["#0000ff"]}, "legend": {"title": null}}
    }
  },
  {
    "width": 1906, "height": 182,
    "mark": {"type": "line", "strokeWidth": 2.1},
    "encoding": {
      "x": {"field": "date", "type": "temporal", "scale": {"type": "utc", "domain": [{"year": 2022, "month": 11, "date": 17, "hours": 15, "minutes": 36, "utc": true}, {"year": 2023, "month": 12, "date": 26, "hours": 8, "minutes": 24, "utc": true}]}, "axis": {"values": [{"year": 2023, "month": 1, "date": 1, "utc": true}, {"year": 2023, "month": 3, "date": 1, "utc": true}, {"year": 2023, "month": 5, "date": 1, "utc": true}, {"year": 2023, "month": 7, "date": 1, "utc": true}, {"year": 2023, "month": 9, "date": 1, "utc": true}, {"year": 2023, "month": 11, "date": 1, "utc": true}], "format": "%Y-%m", "labelAngle": 0}},
      "y": {"field": "vpt", "type": "quantitative", "scale": {"domain": [-77000, 501000], "nice": false, "zero": false}, "axis": {"values": [0, 100000, 200000, 300000, 400000, 500000], "format": "d"}},
      "color": {"datum": "VPT", "type": "nominal", "scale": {"domain": ["VPT"], "range": ["#0000ff"]}, "legend": {"title": null}}
    }
  }
]
}
